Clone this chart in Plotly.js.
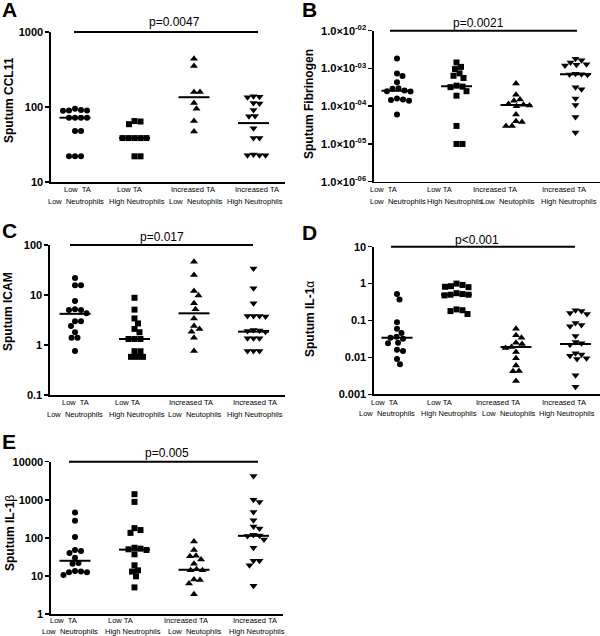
<!DOCTYPE html>
<html><head><meta charset="utf-8">
<script src="https://cdn.plot.ly/plotly-3.0.1.min.js"></script>
<style>html,body{margin:0;padding:0;background:#fff}#chart{width:600px;height:636px}</style>
</head><body><div id="chart"></div>
<script>
// ---------------- data ----------------
const groupTop = ["Low\u00a0 TA", "Low TA", "Increased TA", "Increased TA"];
const groupBottom = ["Low\u00a0 Neutrophils", "High Neutrophils", "Low\u00a0 Neutophils", "High Neutrophils"];

// A: Sputum CCL11
const ccl11_lowTA_lowNeut = [95, 91, 90, 90, 89, 72, 72, 72, 72, 48, 48, 22, 22, 22];
const ccl11_lowTA_highNeut = [65, 64, 59, 38.5, 38.5, 38.5, 38.5, 38.5, 22, 22];
const ccl11_incTA_lowNeut = [441, 352, 158, 158, 113, 95, 65, 47];
const ccl11_incTA_highNeut = [139, 137, 135, 113, 111, 91, 76, 75, 52, 38.6, 38.6, 23.3, 22.7, 22.7, 22.7];
const ccl11_medians = [72, 38.6, 135, 61];
const ccl11_ticks = [10, 100, 1000];
const ccl11_tickText = ["10", "100", "1000"];

// B: Sputum Fibrinogen
const fib_lowTA_lowNeut = [1.84e-3, 7.4e-4, 6.3e-4, 4.3e-4, 3.0e-4, 2.9e-4, 2.6e-4, 2.5e-4, 2.45e-4, 1.6e-4, 1.5e-4, 1.45e-4, 1.4e-4, 6e-5];
const fib_lowTA_highNeut = [1.44e-3, 1.1e-3, 9.6e-4, 7.4e-4, 6.4e-4, 5.6e-4, 3.5e-4, 3.3e-4, 3.2e-4, 2.5e-4, 1.9e-4, 3e-5, 1e-5, 1e-5];
const fib_incTA_lowNeut = [4.0e-4, 2.0e-4, 1.5e-4, 1.4e-4, 1.15e-4, 1.1e-4, 1.05e-4, 1.0e-4, 6e-5, 4e-5, 3.8e-5, 3e-5, 3e-5];
const fib_incTA_highNeut = [1.8e-3, 1.65e-3, 1.44e-3, 1.3e-3, 1.25e-3, 1.2e-3, 7.2e-4, 7e-4, 6.9e-4, 6.8e-4, 3.2e-4, 2.8e-4, 1.6e-4, 1.07e-4, 5.2e-5, 2e-5];
const fib_medians = [2.55e-4, 3.4e-4, 1.08e-4, 7.0e-4];
const fib_ticks = [1e-6, 1e-5, 1e-4, 1e-3, 1e-2];
const fib_tickText = ["1.0×10<sup>-06</sup>", "1.0×10<sup>-05</sup>", "1.0×10<sup>-04</sup>", "1.0×10<sup>-03</sup>", "1.0×10<sup>-02</sup>"];

// C: Sputum ICAM
const icam_lowTA_lowNeut = [22, 15.7, 15.7, 7.6, 5.2, 5.0, 5.0, 4.3, 3.0, 3.0, 2.4, 1.8, 1.4, 1.4, 0.76];
const icam_lowTA_highNeut = [8.8, 5.1, 3.4, 2.7, 2.1, 1.8, 1.32, 1.32, 1.32, 0.75, 0.75, 0.58, 0.58, 0.58];
const icam_incTA_lowNeut = [46, 25, 12, 9.8, 6.8, 5.2, 3.4, 2.4, 2.1, 1.85, 1.4, 0.76];
const icam_incTA_highNeut = [34, 13.6, 6.8, 3.8, 3.8, 3.8, 3.7, 2.0, 1.95, 1.9, 1.85, 1.36, 1.36, 1.36, 0.76, 0.76, 0.76];
const icam_medians = [4.2, 1.32, 4.3, 1.85];
const icam_ticks = [0.1, 1, 10, 100];
const icam_tickText = ["0.1", "1", "10", "100"];

// D: Sputum IL-1alpha
const il1a_lowTA_lowNeut = [0.52, 0.37, 0.09, 0.06, 0.046, 0.036, 0.034, 0.032, 0.025, 0.024, 0.016, 0.015, 0.009, 0.0065];
const il1a_lowTA_highNeut = [1.0, 0.92, 0.85, 0.82, 0.8, 0.55, 0.52, 0.5, 0.5, 0.48, 0.2, 0.19, 0.18, 0.15];
const il1a_incTA_lowNeut = [0.06, 0.04, 0.034, 0.025, 0.023, 0.019, 0.018, 0.014, 0.0095, 0.006, 0.0043, 0.0042, 0.0023];
const il1a_incTA_highNeut = [0.19, 0.18, 0.16, 0.15, 0.085, 0.075, 0.07, 0.038, 0.026, 0.024, 0.022, 0.013, 0.012, 0.011, 0.0095, 0.009, 0.0033, 0.0016];
const il1a_medians = [0.034, 0.51, 0.019, 0.023];
const il1a_ticks = [0.001, 0.01, 0.1, 1, 10];
const il1a_tickText = ["0.001", "0.01", "0.1", "1", "10"];

// E: Sputum IL-1beta
const il1b_lowTA_lowNeut = [460, 280, 105, 48, 45, 40, 30, 22, 21, 13.5, 13, 12.5, 12.5, 10.5];
const il1b_lowTA_highNeut = [1400, 880, 180, 160, 135, 55, 52, 50, 48, 37, 19, 14, 13, 9.8, 5];
const il1b_incTA_lowNeut = [80, 48, 34, 33, 27, 21, 15, 14, 14, 8, 7.8, 6.3, 3.3];
const il1b_incTA_highNeut = [4200, 1000, 870, 480, 290, 200, 175, 120, 115, 112, 90, 55, 25, 25, 19, 5.5];
const il1b_medians = [25, 49, 14.5, 113];
const il1b_ticks = [1, 10, 100, 1000, 10000];
const il1b_tickText = ["1", "10", "100", "1000", "10000"];

const panelLetters = ["A", "B", "C", "D", "E"];
const panelTitles = ["<b>Sputum CCL11</b>", "<b>Sputum Fibrinogen</b>", "<b>Sputum ICAM</b>", "<b>Sputum IL-1</b>α", "<b>Sputum IL-1</b>β"];
const pValues = ["p=0.0047", "p=0.0021", "p=0.017", "p<0.001", "p=0.005"];

// ---------------- layout config ----------------
const W = 600, H = 636, SP = 59.5;
const FONT = "Liberation Sans, Arial, Helvetica, sans-serif";
const symbols = ["circle", "square", "triangle-up", "triangle-down"];
const symSize = [6, 6, 7, 7];

// pixel geometry of each panel (plot box, label rows, annotations)
const panels = [
  {groups:[ccl11_lowTA_lowNeut, ccl11_lowTA_highNeut, ccl11_incTA_lowNeut, ccl11_incTA_highNeut], med:ccl11_medians, tv:ccl11_ticks, tt:ccl11_tickText,
   g:{x0:51,x1:285,y0:32,y1:182,c0:75,yr:[1,3],lx:0,ly:10,px:174,py:21.7,bx0:74,bx1:258,tx:9,ty:100,
      r1:[77,129,193,257], r2:[76,137,196,255], d1:7.8, d2:19.8}},
  {groups:[fib_lowTA_lowNeut, fib_lowTA_highNeut, fib_incTA_lowNeut, fib_incTA_highNeut], med:fib_medians, tv:fib_ticks, tt:fib_tickText,
   g:{x0:374,x1:600,y0:30.7,y1:181.7,c0:397,yr:[-6,-2],lx:300,ly:10,px:478,py:23,bx0:390,bx1:577,tx:309,ty:104,
      r1:[383,440,495,564], r2:[398,455,508,569], d1:7.8, d2:19.8}},
  {groups:[icam_lowTA_lowNeut, icam_lowTA_highNeut, icam_incTA_lowNeut, icam_incTA_highNeut], med:icam_medians, tv:icam_ticks, tt:icam_tickText,
   g:{x0:50,x1:285,y0:245,y1:395,c0:75,yr:[-1,2],lx:0,ly:231,px:162,py:237,bx0:70,bx1:253,tx:8,ty:312,
      r1:[75,127,191,255], r2:[75,137,195,255], d1:7.3, d2:19.0}},
  {groups:[il1a_lowTA_lowNeut, il1a_lowTA_highNeut, il1a_incTA_lowNeut, il1a_incTA_highNeut], med:il1a_medians, tv:il1a_ticks, tt:il1a_tickText,
   g:{x0:374,x1:600,y0:246.7,y1:394.3,c0:397,yr:[-3,1],lx:300,ly:233,px:477,py:240,bx0:391,bx1:575,tx:310,ty:319,
      r1:[384,440,498,564], r2:[387,449,509,567], d1:7.8, d2:19.6}},
  {groups:[il1b_lowTA_lowNeut, il1b_lowTA_highNeut, il1b_incTA_lowNeut, il1b_incTA_highNeut], med:il1b_medians, tv:il1b_ticks, tt:il1b_tickText,
   g:{x0:51,x1:283,y0:461.7,y1:614,c0:75,yr:[0,4],lx:0,ly:441,px:167,py:453,bx0:69,bx1:258,tx:10,ty:533,
      r1:[63,120,186,255], r2:[70,133,195,257], d1:6.6, d2:17.8}}
];

// beeswarm offsets (pixel space) so that dots with similar values sit side by side
function swarm(vals, pxPerDec, d) {
  const order = vals.map((v, i) => i).sort((a, b) => vals[b] - vals[a]);
  const placed = [], off = new Array(vals.length).fill(0);
  for (const i of order) {
    const py = Math.log10(vals[i]) * pxPerDec;
    for (let k = 0; k < 2000; k++) {
      const c = (k % 2 === 1 ? 1 : -1) * Math.ceil(k / 2) * 0.5;
      let ok = true;
      for (const p of placed) {
        const dx = c - p.x, dy = py - p.y;
        if (dx * dx + dy * dy < d * d - 0.01) { ok = false; break; }
      }
      if (ok) { off[i] = c; placed.push({x: c, y: py}); break; }
    }
  }
  return off;
}

const traces = [], layout = {
  width: W, height: H, margin: {l:0, r:0, t:0, b:0}, showlegend: false,
  paper_bgcolor: "#fff", plot_bgcolor: "rgba(0,0,0,0)",
  font: {family: FONT, color: "#000"}, shapes: [], annotations: []
};

panels.forEach((P, pi) => {
  const g = P.g, n = pi === 0 ? "" : String(pi + 1);
  const xa = "x" + n, ya = "y" + n;
  const pxPerDec = (g.y1 - g.y0) / (g.yr[1] - g.yr[0]);
  layout["xaxis" + n] = {
    domain: [g.x0 / W, g.x1 / W], range: [(g.x0 - g.c0) / SP, (g.x1 - g.c0) / SP],
    anchor: ya, showgrid: false, zeroline: false, showline: true, linecolor: "#000", linewidth: 1.6,
    ticks: "", showticklabels: false, fixedrange: true
  };
  layout["yaxis" + n] = {
    domain: [1 - g.y1 / H, 1 - g.y0 / H], type: "log", range: g.yr, anchor: xa,
    showgrid: false, zeroline: false, showline: true, linecolor: "#000", linewidth: 1.6,
    ticks: "outside", ticklen: 4, tickwidth: 1.5, tickcolor: "#000",
    tickmode: "array", tickvals: P.tv, ticktext: P.tt,
    tickfont: {size: 11, family: FONT, color: "#000", weight: "bold"}, fixedrange: true
  };
  P.groups.forEach((vals, gi) => {
    const off = swarm(vals, pxPerDec, 6);
    traces.push({
      type: "scatter", mode: "markers", xaxis: xa, yaxis: ya,
      x: vals.map((v, i) => gi + off[i] / SP), y: vals,
      marker: {symbol: symbols[gi], size: symSize[gi], color: "#000", line: {width: 0}},
      hoverinfo: "skip", cliponaxis: false
    });
    traces.push({
      type: "scatter", mode: "lines", xaxis: xa, yaxis: ya,
      x: [gi - 15.5 / SP, gi + 15.5 / SP], y: [P.med[gi], P.med[gi]],
      line: {color: "#000", width: 2}, hoverinfo: "skip"
    });
    // two-row category label under each group
    layout.annotations.push({xref: "paper", yref: "paper", x: g.r1[gi] / W, y: 1 - (g.y1 + g.d1) / H,
      text: groupTop[gi], showarrow: false, xanchor: "center", yanchor: "middle",
      font: {size: 7.5, family: FONT, color: "#000"}});
    layout.annotations.push({xref: "paper", yref: "paper", x: g.r2[gi] / W, y: 1 - (g.y1 + g.d2) / H,
      text: groupBottom[gi], showarrow: false, xanchor: "center", yanchor: "middle",
      font: {size: 7.5, family: FONT, color: "#000"}});
  });
  // significance bar across all groups
  layout.shapes.push({type: "line", xref: "paper", yref: "paper",
    x0: g.bx0 / W, x1: g.bx1 / W, y0: 1 - g.y0 / H, y1: 1 - g.y0 / H,
    line: {color: "#000", width: 2}});
  layout.annotations.push({xref: "paper", yref: "paper", x: g.px / W, y: 1 - g.py / H,
    text: pValues[pi], showarrow: false, xanchor: "center", yanchor: "middle",
    font: {size: 12, family: FONT, color: "#000"}});
  layout.annotations.push({xref: "paper", yref: "paper", x: g.lx / W, y: 1 - g.ly / H,
    text: "<b>" + panelLetters[pi] + "</b>", showarrow: false, xanchor: "left", yanchor: "middle",
    font: {size: 21, family: FONT, color: "#000"}});
  layout.annotations.push({xref: "paper", yref: "paper", x: g.tx / W, y: 1 - g.ty / H,
    text: panelTitles[pi], showarrow: false, textangle: -90, xanchor: "center", yanchor: "middle",
    font: {size: 12, family: FONT, color: "#000"}});
});

Plotly.newPlot("chart", traces, layout, {staticPlot: true, displayModeBar: false});
</script></body></html>
